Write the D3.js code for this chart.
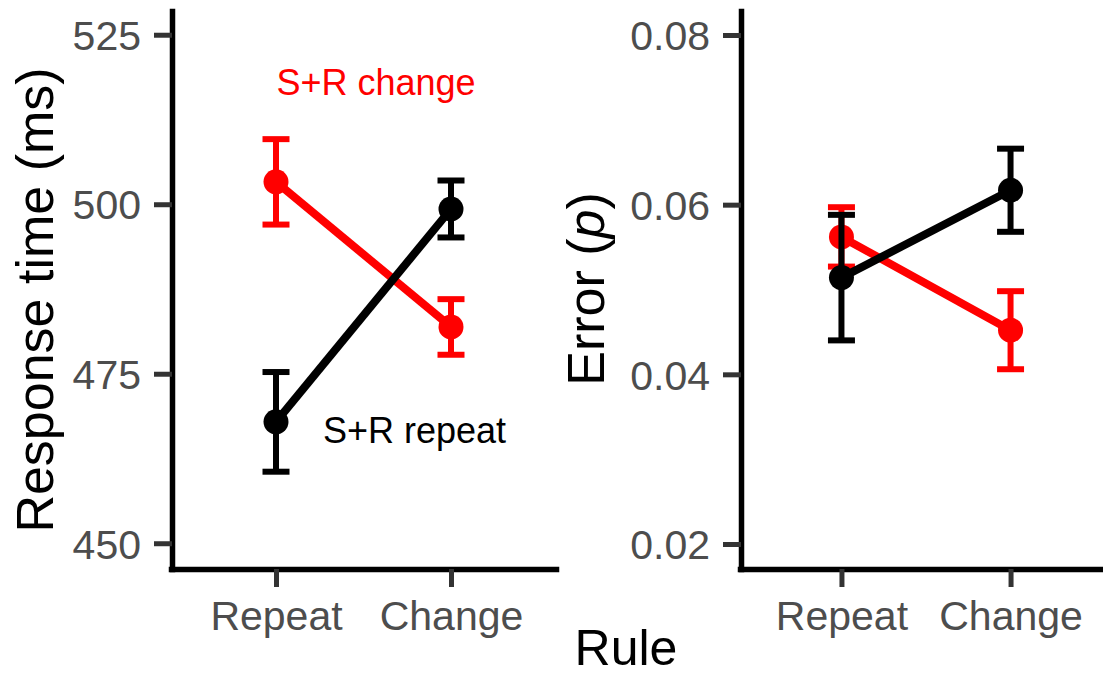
<!DOCTYPE html>
<html>
<head>
<meta charset="utf-8">
<script src="https://cdn.jsdelivr.net/npm/d3@7"></script>
<style>
  body { margin: 0; background: #fff; }
  svg { display: block; font-family: "Liberation Sans", Arial, sans-serif; }
</style>
</head>
<body>
<svg id="chart" width="1103" height="676"></svg>
<script>
// data
const rules = ['Repeat', 'Change'];
const groups = ['S+R change', 'S+R repeat'];

const rtChange = [503.3, 481.9];
const rtChangeSe = [6.3, 4.1];
const rtRepeat = [467.9, 499.3];
const rtRepeatSe = [7.35, 4.2];

const errChange = [0.0562, 0.0452];
const errChangeSe = [0.0035, 0.0046];
const errRepeat = [0.0514, 0.0617];
const errRepeatSe = [0.0074, 0.0049];

const rtTicks = [450, 475, 500, 525];
const errTicks = [0.02, 0.04, 0.06, 0.08];

const groupColor = { 'S+R change': '#ff0000', 'S+R repeat': '#000000' };

const svg = d3.select('#chart');
svg.append('rect').attr('width', 1103).attr('height', 676).attr('fill', '#fff');

const PANEL_TOP = 11, PANEL_BOTTOM = 569;

function drawPanel(opts) {
  const x = d3.scalePoint().domain(rules).range(opts.xRange).padding(0.6);
  const y = d3.scaleLinear().domain(opts.yDomain).range([PANEL_BOTTOM, PANEL_TOP]);
  const g = svg.append('g');

  // series: red first, black on top
  opts.series.forEach(s => {
    const pts = rules.map((r, i) => ({ r, v: s.values[i], se: s.se[i] }));
    const col = groupColor[s.name];
    const sg = g.append('g');

    sg.append('path')
      .datum(pts)
      .attr('fill', 'none').attr('stroke', col).attr('stroke-width', 8)
      .attr('d', d3.line().x(d => x(d.r)).y(d => y(d.v)));

    const eb = sg.selectAll('.eb').data(pts).join('g').attr('class', 'eb')
      .attr('stroke', col).attr('stroke-width', 6);
    eb.append('line')
      .attr('x1', d => x(d.r)).attr('x2', d => x(d.r))
      .attr('y1', d => y(d.v - d.se)).attr('y2', d => y(d.v + d.se));
    eb.append('line')
      .attr('x1', d => x(d.r) - 13.5).attr('x2', d => x(d.r) + 13.5)
      .attr('y1', d => y(d.v + d.se)).attr('y2', d => y(d.v + d.se));
    eb.append('line')
      .attr('x1', d => x(d.r) - 13.5).attr('x2', d => x(d.r) + 13.5)
      .attr('y1', d => y(d.v - d.se)).attr('y2', d => y(d.v - d.se));

    sg.selectAll('circle').data(pts).join('circle')
      .attr('cx', d => x(d.r)).attr('cy', d => y(d.v)).attr('r', 12.5)
      .attr('fill', col);
  });

  // axes
  const yAxis = g.append('g')
    .attr('transform', `translate(${opts.xRange[0] + 1},0)`)
    .call(d3.axisLeft(y).tickValues(opts.ticks).tickFormat(opts.fmt)
      .tickSize(18).tickSizeOuter(0).tickPadding(13));
  const xAxis = g.append('g')
    .attr('transform', `translate(0,${PANEL_BOTTOM})`)
    .call(d3.axisBottom(x).tickSize(18).tickSizeOuter(0).tickPadding(13));

  [yAxis, xAxis].forEach(a => {
    a.select('.domain').attr('stroke', '#000').attr('stroke-width', 5.5)
      .attr('stroke-linecap', 'square');
    a.selectAll('.tick line').attr('stroke', '#333').attr('stroke-width', 5);
    a.selectAll('.tick text').attr('fill', '#4d4d4d')
      .style('font-size', '41px').style('font-family', '"Liberation Sans", Arial, sans-serif');
  });
  yAxis.selectAll('.tick text').attr('dy', '0.36em');
  xAxis.selectAll('.tick text').attr('dy', '0.72em');

  // y axis title
  const t = g.append('text')
    .attr('transform', `translate(${opts.titleX},${opts.titleY}) rotate(-90)`)
    .attr('text-anchor', 'middle')
    .style('font-size', '52px').attr('fill', '#000');
  opts.title.forEach(p => t.append('tspan').text(p.text).style('font-style', p.italic ? 'italic' : null));

  return { x, y };
}

drawPanel({
  xRange: [171, 556],
  yDomain: [446.2, 528.5],
  ticks: rtTicks,
  fmt: d3.format('d'),
  series: [
    { name: groups[0], values: rtChange, se: rtChangeSe },
    { name: groups[1], values: rtRepeat, se: rtRepeatSe }
  ],
  title: [{ text: 'Response time (ms)' }],
  titleX: 53, titleY: 300
});

drawPanel({
  xRange: [740, 1112],
  yDomain: [0.01705, 0.08283],
  ticks: errTicks,
  fmt: d3.format('.2f'),
  series: [
    { name: groups[0], values: errChange, se: errChangeSe },
    { name: groups[1], values: errRepeat, se: errRepeatSe }
  ],
  title: [{ text: 'Error (' }, { text: 'p', italic: true }, { text: ')' }],
  titleX: 604, titleY: 289
});

// group labels in the left panel
svg.append('text').attr('x', 376).attr('y', 95).attr('text-anchor', 'middle')
  .style('font-size', '36px').attr('fill', groupColor[groups[0]]).text(groups[0]);
svg.append('text').attr('x', 323).attr('y', 443).attr('text-anchor', 'start')
  .style('font-size', '36px').attr('fill', groupColor[groups[1]]).text(groups[1]);

// shared x title
svg.append('text').attr('x', 626).attr('y', 665).attr('text-anchor', 'middle')
  .style('font-size', '50px').attr('fill', '#000').text('Rule');
</script>
</body>
</html>
